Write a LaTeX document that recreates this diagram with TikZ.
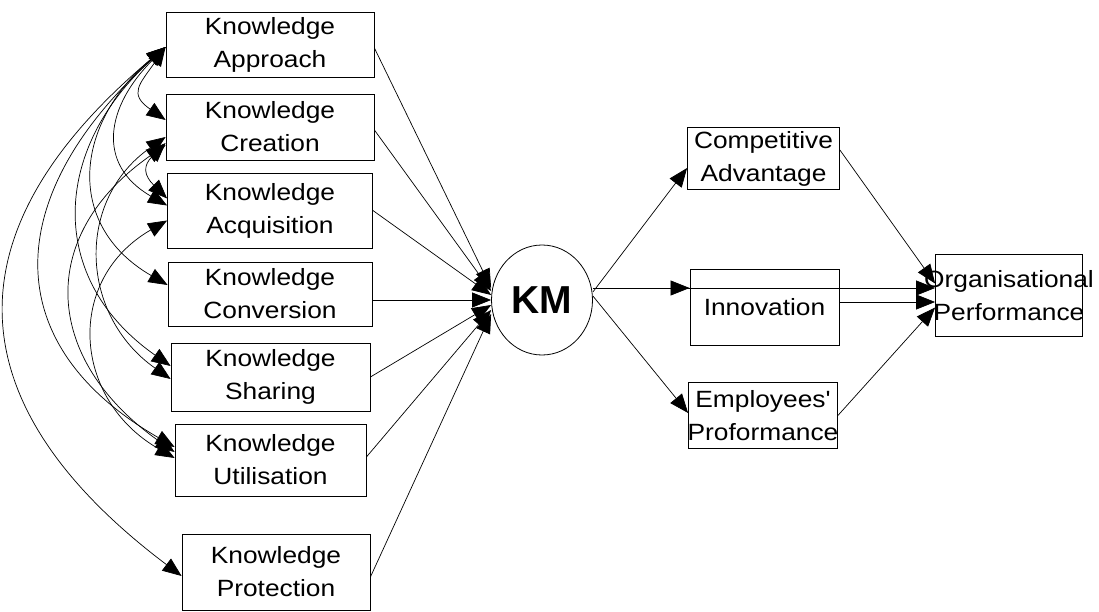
\documentclass[tikz,border=0pt]{standalone}
\usepackage{fontspec}
\setmainfont{Liberation Sans}[FakeStretch=1.12, Ligatures=TeXOff]
\newfontfamily\kmfont{Liberation Sans}
\usetikzlibrary{arrows.meta,shapes.geometric}
\tikzset{>={Triangle[width=15pt,length=19pt]}}

\begin{document}
\begin{tikzpicture}[x=1pt,y=-1pt,
  kbox/.style={draw, line width=0.8pt, align=center, inner sep=0pt,
    font=\fontsize{23.5}{33}\selectfont},
  kmline/.style={->, line width=0.7pt},
  cov/.style={<->, line width=0.7pt}]

  \useasboundingbox (0,0) rectangle (1099,612);

  % knowledge processes
  \node[kbox, minimum width=208pt, minimum height=65pt] (kapp) at (270,44.5) {Knowledge\\Approach};
  \node[kbox, minimum width=208pt, minimum height=66pt] (kcre) at (270,127) {Knowledge\\Creation};
  \node[kbox, minimum width=205pt, minimum height=75pt] (kacq) at (270,210.5) {Knowledge\\Acquisition};
  \node[kbox, minimum width=204pt, minimum height=64pt] (kcon) at (270,294) {Knowledge\\Conversion};
  \node[kbox, minimum width=199pt, minimum height=68pt] (kshr) at (270.5,377) {Knowledge\\Sharing};
  \node[kbox, minimum width=191pt, minimum height=72pt] (kutl) at (270.5,460) {Knowledge\\Utilisation};
  \node[kbox, minimum width=188pt, minimum height=76pt] (kpro) at (276,572) {Knowledge\\Protection};

  \node[draw, ellipse, line width=0.8pt, minimum width=101pt, minimum height=110pt, inner sep=0pt,
    font=\kmfont\bfseries\fontsize{39}{39}\selectfont] (km) at (542,300) {KM};

  % outcomes
  \node[kbox, minimum width=152pt, minimum height=62pt] (ca) at (763.5,158.5) {Competitive\\Advantage};
  \node[kbox, minimum width=149pt, minimum height=76pt] (innov) at (764.5,307) {Innovation};
  \node[kbox, minimum width=149pt, minimum height=66pt] (ep) at (763,415.5) {\makebox[0pt]{Employees'}\\\makebox[0pt]{Proformance}};
  \node[kbox, minimum width=147pt, minimum height=82pt] (op) at (1009,295.5) {\makebox[0pt]{Organisational}\\\makebox[0pt]{Performance}};

  % processes -> KM
  \draw[kmline] ([yshift=-3.5pt]kapp.east) -- ([yshift=12pt]km.west);
  \draw[kmline] ([yshift=-3pt]kcre.east) -- ([yshift=9pt]km.west);
  \draw[kmline] (kacq.east) -- ([yshift=5pt]km.west);
  \draw[kmline] ([yshift=-6pt]kcon.east) -- (km.west);
  \draw[kmline] (kshr.east) -- ([yshift=-5pt]km.west);
  \draw[kmline] ([yshift=3pt]kutl.east) -- ([yshift=-10pt]km.west);
  \draw[kmline] ([yshift=-5pt]kpro.east) -- ([yshift=-14pt]km.west);

  % KM -> outcomes
  \coordinate (kmout) at ([yshift=12pt]km.east);
  \coordinate (innout) at ([yshift=5pt]innov.east);
  \draw[kmline] ([yshift=8pt]km.east) -- ([yshift=-9.5pt]ca.west);
  \draw[kmline] (kmout) -- (kmout -| innov.west);
  \draw[kmline] ([yshift=4pt]km.east) -- ([yshift=2.5pt]ep.west);
  \draw[kmline] (kmout) -- (kmout -| op.west); % KM -> performance
  \draw[kmline] ([yshift=8.5pt]ca.east) -- ([yshift=12pt]op.west);
  \draw[kmline] (innout) -- (innout -| op.west);
  \draw[kmline] (ep.east) -- ([yshift=-12pt]op.west);

  % covariances between the processes
  \draw[cov] ([yshift=-2.5pt]kapp.west) to[out=235,in=145,looseness=1.6] ([yshift=7pt]kcre.west);
  \draw[cov] ([yshift=-16pt]kcre.west) to[out=225,in=135,looseness=1.5] ([yshift=12pt]kacq.west);
  \draw[cov] ([yshift=-2.5pt]kapp.west) to[out=225,in=150,looseness=1.34] ([yshift=5pt]kacq.west);
  \draw[cov] ([yshift=-2.5pt]kapp.west) to[out=220,in=150,looseness=1.28] ([yshift=9pt]kcon.west);
  \draw[cov] ([yshift=-2.5pt]kapp.west) to[out=222,in=145,looseness=1.22] ([yshift=11pt]kshr.west);
  \draw[cov] ([yshift=-2.5pt]kapp.west) to[out=222,in=150,looseness=1.36] ([yshift=13pt]kutl.west);
  \draw[cov] ([yshift=-2.5pt]kapp.west) to[out=220,in=143,looseness=1.38] ([yshift=-4pt]kpro.west);
  \draw[cov] ([yshift=-10pt]kcre.west) to[out=215,in=145,looseness=1.17] ([yshift=-2pt]kshr.west);
  \draw[cov] ([yshift=-18pt]kcre.west) to[out=215,in=145,looseness=1.33] ([yshift=8pt]kutl.west);
  \draw[cov] ([yshift=-10pt]kacq.west) to[out=210,in=150,looseness=1.27] ([yshift=2pt]kutl.west);

\end{tikzpicture}
\end{document}
